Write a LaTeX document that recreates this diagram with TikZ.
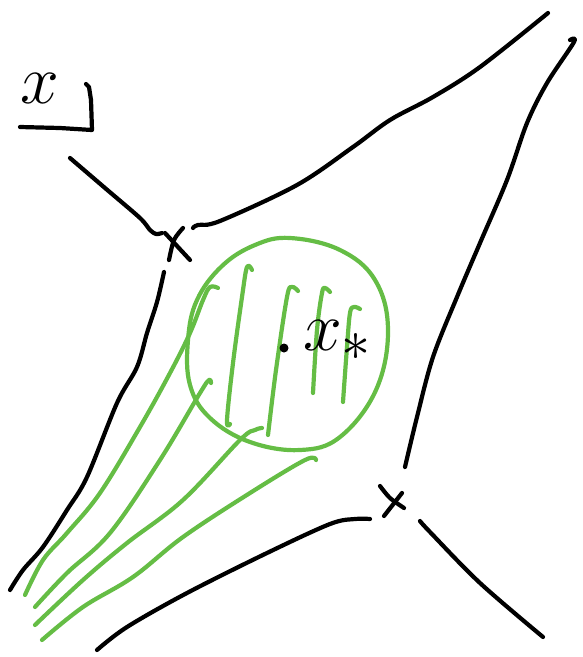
\documentclass[tikz,border=0pt]{standalone}
\usepackage{graphicx}
\usepackage{tikz}
\definecolor{sketchgreen}{RGB}{101,189,69}
\tikzset{
  blk/.style={draw=black, line width=4.2pt, line cap=round, line join=round},
  grn/.style={draw=sketchgreen, line width=4.2pt, line cap=round, line join=round},
  lbl/.style={inner sep=0pt}
}
\newcommand{\biglbl}[1]{\scalebox{2.8}{\Huge$#1$}}
\begin{document}
\begin{tikzpicture}[x=1pt,y=-1pt]
\useasboundingbox (0,0) rectangle (582,657);
% label x with bracket
\node[lbl, anchor=base] (xlab) at (40,103) {\biglbl{x}};
\draw[blk] (20,127) -- (60,128) -- (92,130) -- (91,100) -- (89,87) -- (86,84);
% upper-left branch into saddle
\draw[blk] plot[smooth, tension=0.5] coordinates {(70,158) (105,188) (140,218) (150,230) (156,234) (162,233)};
% saddle cross top-left
\draw[blk] (165,233) -- (190,260);
\draw[blk] plot[smooth] coordinates {(183,228) (174,240) (169,260)};
% upper curve
\draw[blk] plot[smooth, tension=0.55] coordinates {(193,228) (198,225) (220,221) (297,185) (353,147) (390,120) (433,97) (480,67) (548,13)};
% left long curve
\draw[blk] plot[smooth, tension=0.55] coordinates {(164,272) (157,302) (147,333) (137,367) (117,403) (87,477) (67,510) (43,547) (23,570) (10,590)};
% right long curve
\draw[blk] plot[smooth, tension=0.55] coordinates {(570,40) (574,42) (547,83) (527,123) (507,180) (480,243) (457,297) (433,357) (417,417) (405,467)};
% saddle cross bottom-right
\draw[blk] plot[smooth] coordinates {(380,486) (390,498) (404,508)};
\draw[blk] (402,493) -- (384,516);
% bottom curve
\draw[blk] plot[smooth, tension=0.55] coordinates {(370,519) (355,519) (330,524) (267,553) (187,593) (127,627) (97,650)};
% bottom-right curve
\draw[blk] plot[smooth, tension=0.55] coordinates {(420,521) (430,532) (480,583) (543,637)};
% green blob
\draw[grn] plot[smooth cycle, tension=0.65] coordinates {(290,238) (340,250) (375,280) (388,330) (376,390) (340,437) (300,450) (250,442) (210,418) (190,385) (188,340) (197,300) (222,266) (255,245)};
% green inner lines
\draw[grn] plot[smooth, tension=0.6] coordinates {(230,424) (227,420) (233,363) (242,297) (247,267) (252,270)};
\draw[grn] plot[smooth, tension=0.6] coordinates {(268,435) (276,370) (287,297) (292,287) (298,291)};
\draw[grn] plot[smooth, tension=0.6] coordinates {(313,393) (317,330) (322,293) (325,288) (330,292)};
\draw[grn] plot[smooth, tension=0.6] coordinates {(343,402) (347,347) (350,313) (354,307) (360,309)};
% green outer lines
\draw[grn] plot[smooth, tension=0.6] coordinates {(25,595) (43,560) (67,533) (100,493) (140,427) (170,373) (190,333) (203,300) (210,287) (218,288)};
\draw[grn] plot[smooth, tension=0.6] coordinates {(35,607) (67,573) (110,533) (160,460) (200,393) (209,380) (211,383)};
\draw[grn] plot[smooth, tension=0.6] coordinates {(35,625) (83,580) (127,543) (183,500) (240,440) (255,430) (262,428)};
\draw[grn] plot[smooth, tension=0.6] coordinates {(42,640) (83,607) (133,577) (183,537) (250,493) (305,460) (316,460)};
% fixed point
\fill (284,348) circle (4.5pt);
\node[lbl, anchor=base west] (xstar) at (303,350) {\biglbl{x_*}};
\end{tikzpicture}
\end{document}
